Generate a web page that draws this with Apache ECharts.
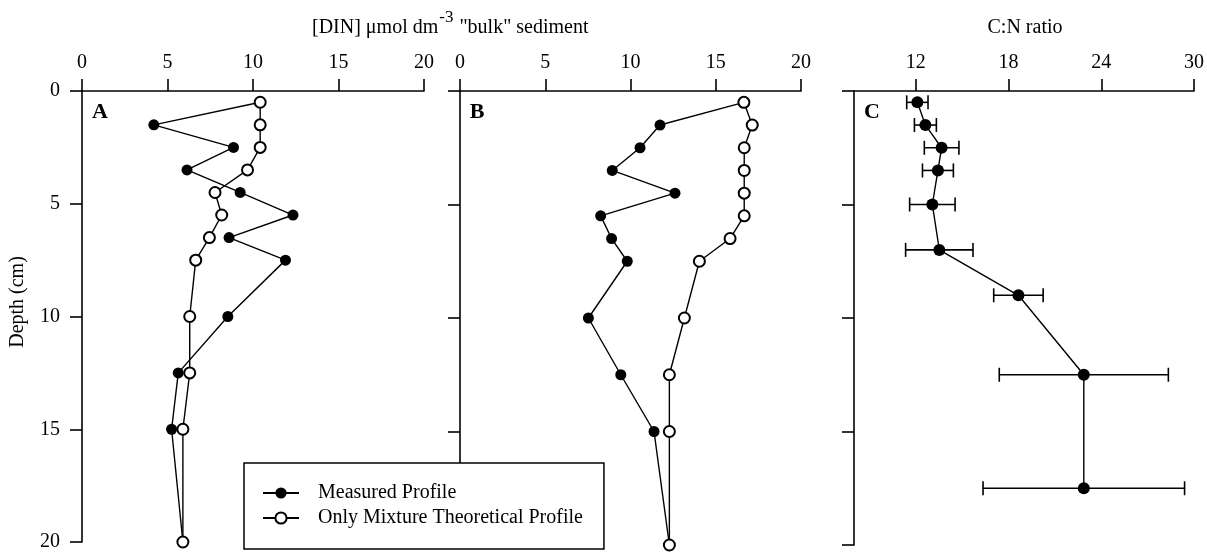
<!DOCTYPE html>
<html>
<head>
<meta charset="utf-8">
<script src="https://cdn.jsdelivr.net/npm/echarts@6/dist/echarts.min.js"></script>
<style>html,body{margin:0;padding:0;background:#fff}#c{width:1207px;height:552px}</style>
</head>
<body>
<div id="c"></div>
<script>
// ---- data ----
const depthsAB = [0.5, 1.5, 2.5, 3.5, 4.5, 5.5, 6.5, 7.5, 10, 12.5, 15, 20];
const measuredA = [10.42, 4.2, 8.86, 6.14, 9.25, 12.34, 8.6, 11.9, 8.53, 5.63, 5.24, 5.9];
const theoreticalA = [10.42, 10.42, 10.42, 9.68, 7.78, 8.17, 7.45, 6.65, 6.3, 6.3, 5.9, 5.9];
const measuredB = [16.65, 11.73, 10.56, 8.93, 12.61, 8.25, 8.89, 9.81, 7.53, 9.43, 11.38, 12.28];
const theoreticalB = [16.65, 17.14, 16.67, 16.67, 16.67, 16.67, 15.84, 14.04, 13.16, 12.28, 12.28, 12.28];
const depthsC = [0.5, 1.5, 2.5, 3.5, 5, 7, 9, 12.5, 17.5];
const cnRatio = [12.1, 12.62, 13.67, 13.43, 13.07, 13.52, 18.64, 22.87, 22.87];
const cnError = [0.69, 0.71, 1.12, 1.0, 1.47, 2.18, 1.6, 5.47, 6.52];
const dinTicks = [0, 5, 10, 15, 20];
const cnTicks = [12, 18, 24, 30];
const depthTicks = [0, 5, 10, 15, 20];
const seriesNames = ['Measured Profile', 'Only Mixture Theoretical Profile'];
const titleParts = ['[DIN] μmol dm', '-3', ' "bulk" sediment'];

const FONT = "'Liberation Serif', 'Times New Roman', serif";
const pairs = (xs, ys) => xs.map((x, i) => [x, ys[i]]);

// measure title pieces so the superscript sits inline
const mctx = document.createElement('canvas').getContext('2d');
function textW(t, size) { mctx.font = size + 'px ' + FONT; return mctx.measureText(t).width; }
const titleX = 312;
const w0 = textW(titleParts[0], 20);
const w1 = textW(titleParts[1], 17);

const axisLine = { show: true, onZero: false, lineStyle: { color: '#000', width: 1.6 } };
const tickStyle = { show: true, inside: false, length: 12, lineStyle: { color: '#000', width: 1.6 } };
const labelStyle = { color: '#000', fontSize: 20, fontFamily: FONT };

function xAxisDin(idx) {
  return {
    gridIndex: idx, type: 'value', position: 'top', min: 0, max: 20, interval: 5,
    axisLine, axisTick: tickStyle, splitLine: { show: false },
    axisLabel: Object.assign({ margin: 18 }, labelStyle)
  };
}
function yAxisDepth(idx, showLabel) {
  return {
    gridIndex: idx, type: 'value', inverse: true, min: 0, max: 20, interval: 5,
    axisLine, axisTick: tickStyle, splitLine: { show: false },
    axisLabel: Object.assign({ show: showLabel, margin: 22 }, labelStyle)
  };
}

function profile(name, xi, xs, filled) {
  return {
    name, type: 'line', xAxisIndex: xi, yAxisIndex: xi,
    data: pairs(xs, depthsAB),
    symbol: filled ? 'circle' : 'emptyCircle', symbolSize: 11,
    itemStyle: { color: '#000', borderWidth: filled ? 0 : 1.5 },
    lineStyle: { color: '#000', width: 1.4 },
    z: filled ? 2 : 3
  };
}

function txt(text, x, y, size, extra) {
  return {
    type: 'text', x, y, z: 10,
    style: Object.assign({ text, fontSize: size, fontFamily: FONT, fill: '#000', align: 'left', verticalAlign: 'middle' }, extra || {})
  };
}

const chart = echarts.init(document.getElementById('c'), null, { renderer: 'canvas' });
chart.setOption({
  animation: false,
  backgroundColor: '#fff',
  textStyle: { fontFamily: FONT },
  grid: [
    { left: 82, top: 91, width: 342, height: 454 },
    { left: 460, top: 91, width: 341, height: 454 },
    { left: 854, top: 91, width: 342, height: 454 }
  ],
  xAxis: [
    xAxisDin(0),
    xAxisDin(1),
    {
      gridIndex: 2, type: 'value', position: 'top', min: 8, max: 30,
      axisLine, splitLine: { show: false },
      axisTick: Object.assign({ customValues: cnTicks }, tickStyle),
      axisLabel: Object.assign({ margin: 18, customValues: cnTicks }, labelStyle)
    }
  ],
  yAxis: [yAxisDepth(0, true), yAxisDepth(1, false), yAxisDepth(2, false)],
  legend: {
    data: seriesNames,
    orient: 'vertical', left: 244, top: 463,
    itemWidth: 36, itemHeight: 14, itemGap: 5,
    padding: [20, 21, 21, 18],
    backgroundColor: '#fff', borderColor: '#000', borderWidth: 1.5, borderRadius: 0,
    selectedMode: false, z: 10,
    textStyle: { color: '#000', fontSize: 20, fontFamily: FONT, lineHeight: 20, padding: [0, 0, 0, 14] }
  },
  graphic: [
    txt(titleParts[0], titleX, 28, 20),
    txt(titleParts[1], titleX + w0 + 1, 18, 17),
    txt(titleParts[2], titleX + w0 + w1 + 2, 28, 20),
    txt('C:N ratio', 1025, 28, 20, { align: 'center' }),
    Object.assign(txt('Depth (cm)', 18, 302, 20, { align: 'center' }), { rotation: Math.PI / 2 }),
    txt('A', 100, 112, 22, { align: 'center', fontWeight: 'bold' }),
    txt('B', 477, 112, 22, { align: 'center', fontWeight: 'bold' }),
    txt('C', 872, 112, 22, { align: 'center', fontWeight: 'bold' })
  ],
  series: [
    profile(seriesNames[0], 0, measuredA, true),
    profile(seriesNames[1], 0, theoreticalA, false),
    profile(seriesNames[0], 1, measuredB, true),
    profile(seriesNames[1], 1, theoreticalB, false),
    {
      name: 'C:N error', type: 'custom', xAxisIndex: 2, yAxisIndex: 2,
      data: cnRatio.map((v, i) => [v, depthsC[i], cnError[i]]),
      encode: { x: 0, y: 1 },
      renderItem: function (params, api) {
        const x = api.value(0), y = api.value(1), e = api.value(2);
        const lo = api.coord([x - e, y]);
        const hi = api.coord([x + e, y]);
        const cap = 7;
        const st = { stroke: '#000', lineWidth: 1.6 };
        return {
          type: 'group',
          children: [
            { type: 'line', shape: { x1: lo[0], y1: lo[1], x2: hi[0], y2: hi[1] }, style: st },
            { type: 'line', shape: { x1: lo[0], y1: lo[1] - cap, x2: lo[0], y2: lo[1] + cap }, style: st },
            { type: 'line', shape: { x1: hi[0], y1: hi[1] - cap, x2: hi[0], y2: hi[1] + cap }, style: st }
          ]
        };
      },
      z: 2
    },
    {
      name: 'C:N ratio', type: 'line', xAxisIndex: 2, yAxisIndex: 2,
      data: pairs(cnRatio, depthsC),
      symbol: 'circle', symbolSize: 12,
      itemStyle: { color: '#000' },
      lineStyle: { color: '#000', width: 1.4 },
      z: 3
    }
  ]
});
</script>
</body>
</html>
